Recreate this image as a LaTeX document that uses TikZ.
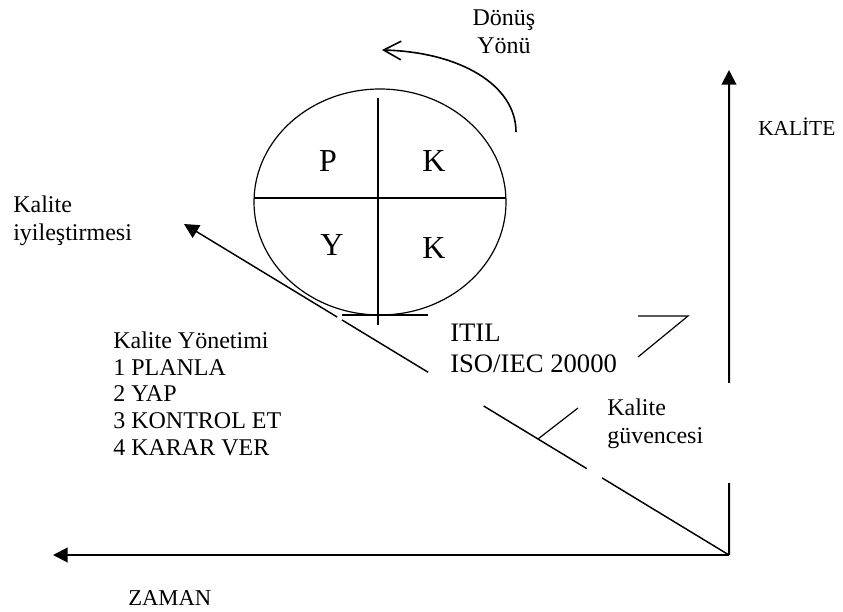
\documentclass[tikz,border=0pt]{standalone}
\usepackage{fontspec}
\setmainfont{Liberation Serif}
\usetikzlibrary{arrows.meta,calc}

\begin{document}
\begin{tikzpicture}[x=0.75pt, y=-0.75pt,
  ax/.style={line width=1.5pt},
  tip/.style={-{Triangle[length=11pt,width=11pt]}},
  ln/.style={line width=1.1pt},
  thin/.style={line width=0.9pt},
  lbl/.style={inner sep=0pt, anchor=base west, align=left, font=\fontsize{18}{21}\selectfont},
  big/.style={inner sep=0pt, anchor=base, font=\fontsize{24}{28}\selectfont},
]
\useasboundingbox (0,0) rectangle (843,611);
% eksenler
\coordinate (O) at (729,555);
\coordinate (Xend) at (53,555);
\coordinate (Yend) at (729,70);
\coordinate (T) at (184,224);
\draw[ax, tip] (O) -- (Xend);
\draw[ax] (O) -- ($(O)!0.148!(Yend)$);
\draw[ax, tip] ($(O)!0.355!(Yend)$) -- (Yend);

% kalite iyilestirmesi (kesik cizgi parcalari)
\draw[ln] (O) -- ($(O)!0.233!(T)$);
\draw[ln] ($(O)!0.261!(T)$) -- ($(O)!0.450!(T)$);
\draw[ln] ($(O)!0.552!(T)$) -- ($(O)!0.710!(T)$);
\draw[ln, tip] ($(O)!0.719!(T)$) -- (T);

% PYKK daire
\coordinate (C) at (380,202);
\coordinate (W) at (254,198);
\coordinate (E) at (506,198);
\coordinate (N) at (378,98);
\coordinate (S) at (378,325);
\draw[thin] (C) ellipse [x radius=126, y radius=113];
\draw[thin] (W) -- (E);
\draw[thin] (N) -- (S);
\node[big] (p) at (328,171) {P};
\node[big] (k1) at (434,171) {K};
\node[big] (y) at (332,255) {Y};
\node[big] (k2) at (434,258) {K};

% donus yonu
\coordinate (r0) at (516,132);
\coordinate (r1) at (382,50);
\draw[line width=1.2pt, -{Straight Barb[length=13pt,width=14pt]}]
  (r0) .. controls (516,85) and (460,52) .. (r1);
\node[lbl, anchor=base, align=center] (donus) at (504,53) {Dönüş\\Yönü};

% isaret cizgileri
\draw[thin] (342,315) -- (428,315);
\draw[thin] (638,316) -- (688,316) -- (638,357);
\draw[thin] (578,408) -- ($(O)!0.3505!(T)$);

% metinler (base = son satir)
\node[lbl] (iyil) at (13,240) {Kalite\\iyileştirmesi};
\node[lbl, font=\fontsize{18}{20}\selectfont] (yonetim) at (113,455)
  {Kalite Yönetimi\\1 PLANLA\\2 YAP\\3 KONTROL ET\\4 KARAR VER};
\node[lbl, font=\fontsize{20}{23}\selectfont] (itil) at (450,372) {ITIL\\ISO/IEC 20000};
\node[lbl] (guv) at (607,443) {Kalite\\güvencesi};
\node[lbl, font=\fontsize{16}{20}\selectfont] (kal) at (758,135) {KALİTE};
\node[lbl, font=\fontsize{17}{20}\selectfont] (zaman) at (128,605) {ZAMAN};
\end{tikzpicture}
\end{document}
